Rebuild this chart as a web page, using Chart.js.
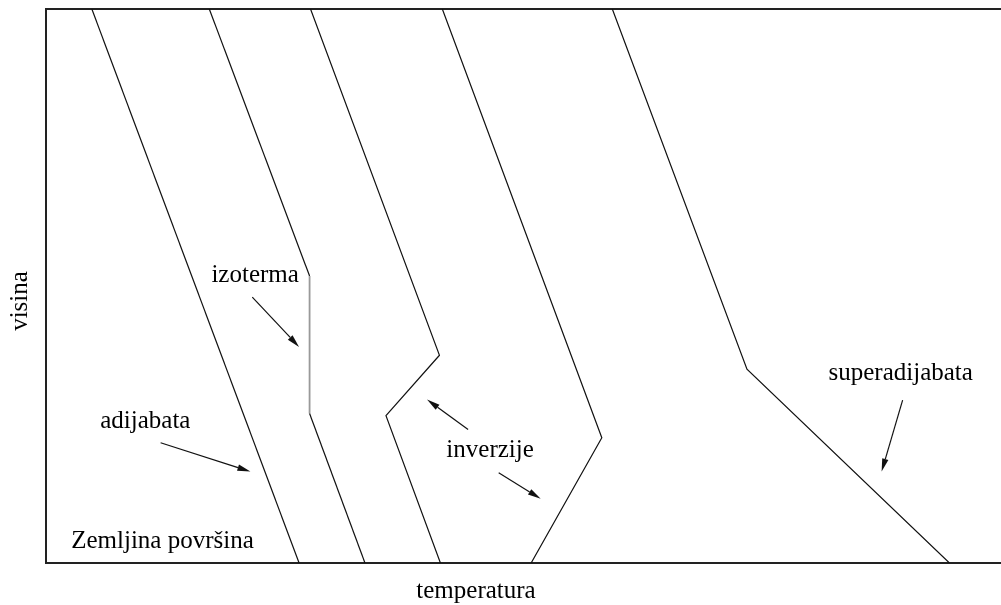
<!DOCTYPE html>
<html>
<head>
<meta charset="utf-8">
<script src="https://cdn.jsdelivr.net/npm/chart.js@4.4.1/dist/chart.umd.min.js"></script>
<style>
  body { margin: 0; background: #fff; }
  #wrap { width: 1001px; height: 605px; }
</style>
</head>
<body>
<div id="wrap"><canvas id="graf" width="1001" height="605"></canvas></div>
<script>
// Profili temperature (x = temperatura, y = visina), relativne jedinice 0-100
const adijabataX = [4.8, 26.5];
const adijabataY = [100, 0];
const izotermaX = [17.1, 27.6, 27.6, 33.4];
const izotermaY = [100, 51.8, 27.0, 0];
const inverzija1X = [27.7, 41.2, 35.6, 41.3];
const inverzija1Y = [100, 37.5, 26.6, 0];
const inverzija2X = [41.5, 58.2, 50.8];
const inverzija2Y = [100, 22.6, 0];
const superX = [59.3, 73.4, 94.6];
const superY = [100, 35.0, 0];

// Strelice: [x0, y0, x1, y1]
const strelice = [
    [21.6, 48.0, 26.5, 39.0],
    [12.0, 21.7, 21.4, 16.5],
    [44.2, 24.1, 39.9, 29.5],
    [47.4, 16.3, 51.8, 11.6],
    [89.7, 29.4, 87.5, 16.5]
];

// Natpisi: tekst, x (sredina), y (osnovna linija)
const natpisi = ["izoterma", "adijabata", "inverzije", "superadijabata", "Zemljina površina"];
const natpisiX = [21.9, 10.4, 46.5, 89.5, 12.2];
const natpisiY = [50.7, 24.3, 19.2, 33.0, 2.7];

const font = "25px 'Liberation Serif', 'DejaVu Serif', serif";

function tacke(xs, ys) {
    return xs.map((x, i) => ({ x: x, y: ys[i] }));
}

function serija(xs, ys, boja, debljina) {
    return {
        data: tacke(xs, ys),
        showLine: true,
        borderColor: boja,
        borderWidth: debljina,
        pointRadius: 0,
        fill: false,
        tension: 0
    };
}

// izoterma: samo vertikalni dio je siv
const izoterma = serija(izotermaX, izotermaY, "#111", 1.2);
izoterma.segment = {
    borderColor: c => c.p0.parsed.x === c.p1.parsed.x ? "#999" : "#111",
    borderWidth: c => c.p0.parsed.x === c.p1.parsed.x ? 1.8 : 1.2
};

// Plugin za strelice i natpise
const oznake = {
    id: "oznake",
    afterDatasetsDraw(chart) {
        const ctx = chart.ctx;
        const sx = chart.scales.x;
        const sy = chart.scales.y;
        ctx.save();
        ctx.strokeStyle = "#111";
        ctx.fillStyle = "#111";
        ctx.lineWidth = 1.2;
        strelice.forEach(s => {
            const x0 = sx.getPixelForValue(s[0]);
            const y0 = sy.getPixelForValue(s[1]);
            const x1 = sx.getPixelForValue(s[2]);
            const y1 = sy.getPixelForValue(s[3]);
            const ug = Math.atan2(y1 - y0, x1 - x0);
            const duz = 13, sir = 3.2;
            const bx = x1 - duz * Math.cos(ug);
            const by = y1 - duz * Math.sin(ug);
            ctx.beginPath();
            ctx.moveTo(x0, y0);
            ctx.lineTo(bx, by);
            ctx.stroke();
            ctx.beginPath();
            ctx.moveTo(x1, y1);
            ctx.lineTo(bx + sir * Math.sin(ug), by - sir * Math.cos(ug));
            ctx.lineTo(bx - sir * Math.sin(ug), by + sir * Math.cos(ug));
            ctx.closePath();
            ctx.fill();
        });

        ctx.fillStyle = "#000";
        ctx.font = font;
        ctx.textAlign = "center";
        ctx.textBaseline = "alphabetic";
        natpisi.forEach((t, i) => {
            ctx.fillText(t, sx.getPixelForValue(natpisiX[i]), sy.getPixelForValue(natpisiY[i]));
        });

        // naslovi osa
        ctx.fillText("temperatura", 476, 598);
        ctx.translate(27, 301);
        ctx.rotate(-Math.PI / 2);
        ctx.fillText("visina", 0, 0);
        ctx.restore();
    }
};

const osa = {
    type: "linear",
    grid: { display: false, drawTicks: false },
    ticks: { display: false },
    border: { display: true, color: "#222", width: 2 }
};

new Chart(document.getElementById("graf").getContext("2d"), {
    type: "scatter",
    data: {
        datasets: [
            serija(adijabataX, adijabataY, "#111", 1.2),
            izoterma,
            serija(inverzija1X, inverzija1Y, "#111", 1.2),
            serija(inverzija2X, inverzija2Y, "#111", 1.2),
            serija(superX, superY, "#111", 1.2)
        ]
    },
    options: {
        responsive: false,
        animation: false,
        layout: { padding: { left: 46, top: 9, right: 0, bottom: 42 } },
        plugins: { legend: { display: false }, tooltip: { enabled: false } },
        scales: {
            x: Object.assign({}, osa, { position: "bottom", min: 0, max: 100 }),
            x2: Object.assign({}, osa, { position: "top", min: 0, max: 100 }),
            y: Object.assign({}, osa, { position: "left", min: 0, max: 100 })
        }
    },
    plugins: [oznake]
});
</script>
</body>
</html>
